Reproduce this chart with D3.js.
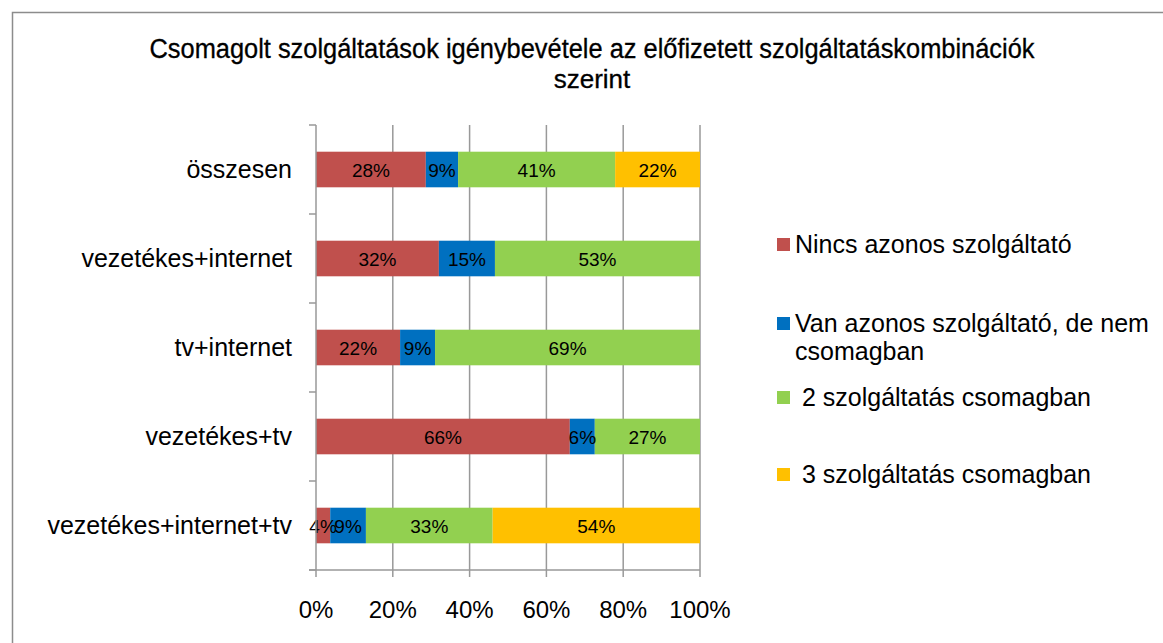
<!DOCTYPE html>
<html><head><meta charset="utf-8">
<script src="https://cdn.jsdelivr.net/npm/d3@7"></script>
<style>html,body{margin:0;padding:0;background:#fff;}</style>
</head><body>
<svg id="c" width="1163" height="643"></svg>
<script>
const categories = ["összesen","vezetékes+internet","tv+internet","vezetékes+tv","vezetékes+internet+tv"];
const seriesNames = ["Nincs azonos szolgáltató","Van azonos szolgáltató, de nem csomagban"," 2 szolgáltatás csomagban"," 3 szolgáltatás csomagban"];
const nincs = [28.6, 32.0, 21.9, 66.1, 3.7];
const van = [8.4, 14.6, 9.1, 6.5, 9.3];
const ketto = [40.9, 53.4, 69.0, 27.4, 33.0];
const harom = [22.1, 0, 0, 0, 54.0];
const valueLabels = [
  ["28%","9%","41%","22%"],
  ["32%","15%","53%",""],
  ["22%","9%","69%",""],
  ["66%","6%","27%",""],
  ["4%","9%","33%","54%"]
];
const tickLabels = ["0%","20%","40%","60%","80%","100%"];
const colors = ["#C0504D","#0070C0","#92D050","#FFC000"];

const svg = d3.select("#c");
svg.append("rect").attr("x",12.5).attr("y",12.5).attr("width",1170).attr("height",700)
  .attr("fill","none").attr("stroke","#8c8c8c").attr("stroke-width",1.5);

const font = "'Liberation Sans', Arial, sans-serif";
const titleFont = "'Liberation Sans Narrow', 'Liberation Sans', sans-serif";
svg.append("text").attr("x",592).attr("y",58).attr("text-anchor","middle")
  .attr("font-family",titleFont).attr("font-size",27).attr("fill","#000")
  .attr("stroke","#000").attr("stroke-width",0.3)
  .attr("textLength",885).attr("lengthAdjust","spacingAndGlyphs")
  .text("Csomagolt szolgáltatások igénybevétele az előfizetett szolgáltatáskombinációk");
svg.append("text").attr("x",592).attr("y",88).attr("text-anchor","middle")
  .attr("font-family",titleFont).attr("font-size",26).attr("fill","#000")
  .attr("stroke","#000").attr("stroke-width",0.3)
  .text("szerint");

const x = d3.scaleLinear().domain([0,100]).range([316,700]);
const y = d3.scaleBand().domain(categories).range([125,570]).paddingInner(0.6).paddingOuter(0.3);
const yAxisBand = d3.scaleBand().domain(categories).range([125,570]);

svg.append("g").selectAll("line").data(d3.range(20,101,20)).join("line")
  .attr("x1",d=>x(d)).attr("x2",d=>x(d)).attr("y1",125).attr("y2",570)
  .attr("stroke","#999").attr("stroke-width",1.5);

const series = [nincs, van, ketto, harom];
const rows = categories.map((c,i)=>{
  let acc=0; return series.map((s,k)=>{const v={cat:c,k,x0:acc,x1:acc+s[i],label:valueLabels[i][k]}; acc+=s[i]; return v;});
});
const g = svg.append("g");
rows.forEach(r=>{
  g.selectAll(null).data(r.filter(d=>d.x1>d.x0)).join("rect")
    .attr("x",d=>x(d.x0)).attr("width",d=>x(d.x1)-x(d.x0))
    .attr("y",d=>y(d.cat)).attr("height",y.bandwidth())
    .attr("fill",d=>colors[d.k]);
});
rows.forEach(r=>{
  g.selectAll(null).data(r.filter(d=>d.label)).join("text")
    .attr("x",d=>(x(d.x0)+x(d.x1))/2).attr("y",d=>y(d.cat)+y.bandwidth()/2+7)
    .attr("text-anchor","middle").attr("font-family",font).attr("font-size",19).attr("fill","#000")
    .text(d=>d.label);
});

const yAx = svg.append("g");
yAx.append("line").attr("x1",316).attr("x2",316).attr("y1",125).attr("y2",570).attr("stroke","#999").attr("stroke-width",1.5);
yAx.selectAll("line.t").data([...categories.map(c=>yAxisBand(c)),570]).join("line").attr("class","t")
  .attr("x1",309).attr("x2",316).attr("y1",d=>d).attr("y2",d=>d).attr("stroke","#999").attr("stroke-width",1.5);
yAx.selectAll("text").data(categories).join("text")
  .attr("x",292).attr("y",d=>yAxisBand(d)+yAxisBand.bandwidth()/2+8.5)
  .attr("text-anchor","end").attr("font-family",font).attr("font-size",25).attr("fill","#000").text(d=>d);

const xAx = svg.append("g");
xAx.append("line").attr("x1",309).attr("x2",700).attr("y1",570).attr("y2",570).attr("stroke","#999").attr("stroke-width",1.5);
xAx.selectAll("line.t").data(d3.range(0,101,20)).join("line").attr("class","t")
  .attr("x1",d=>x(d)).attr("x2",d=>x(d)).attr("y1",570).attr("y2",577).attr("stroke","#999").attr("stroke-width",1.5);
xAx.selectAll("text").data(tickLabels).join("text")
  .attr("x",(d,i)=>x(i*20)).attr("y",618).attr("text-anchor","middle")
  .attr("font-family",font).attr("font-size",24).attr("fill","#000").text(d=>d);

const legY = [244, 323, 397, 474];
const leg = svg.append("g");
seriesNames.forEach((n,i)=>{
  leg.append("rect").attr("x",777).attr("y",legY[i]-6).attr("width",13).attr("height",13).attr("fill",colors[i]);
  const t = leg.append("text").attr("x",795).attr("y",legY[i]+9).attr("font-family",font).attr("font-size",25).attr("fill","#000").attr("xml:space","preserve");
  if(i===1){
    t.append("tspan").attr("x",795).text("Van azonos szolgáltató, de nem");
    t.append("tspan").attr("x",795).attr("dy",28).text("csomagban");
  } else t.text(n);
});
</script>
</body></html>
